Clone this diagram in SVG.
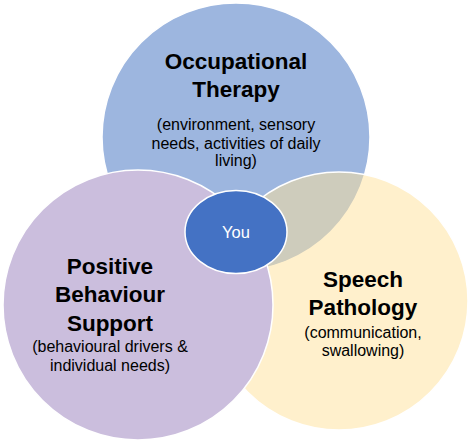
<svg xmlns="http://www.w3.org/2000/svg" width="474" height="445" viewBox="0 0 474 445">
<style>
.c{stroke:#ffffff;stroke-width:1.5}
.t{font-family:"Liberation Sans",Arial,sans-serif;font-weight:bold;font-size:22.5px;fill:#000;text-anchor:middle}
.s{font-family:"Liberation Sans",Arial,sans-serif;font-size:16px;fill:#000;text-anchor:middle}
</style>
<rect width="474" height="445" fill="#ffffff"/>
<g id="ot">
<circle class="c" cx="236" cy="137" r="134" fill="#9DB6DF"/>
</g>
<g id="sp">
<circle class="c" cx="339" cy="301" r="129" fill="#FFE199" fill-opacity="0.5"/>
</g>
<g id="pbs">
<circle class="c" cx="138" cy="305" r="135" fill="#CBBEDD"/>
</g>
<g id="you">
<ellipse class="c" cx="236" cy="232" rx="51" ry="41.5" fill="#4472C4"/>
<text x="236" y="238" font-family="Liberation Sans, Arial, sans-serif" font-size="16.5" fill="#ffffff" text-anchor="middle">You</text>
</g>
<g id="ot-text">
<text class="t" x="236" y="69">Occupational</text>
<text class="t" x="236" y="97">Therapy</text>
<text class="s" x="236" y="130">(environment, sensory</text>
<text class="s" x="236" y="149">needs, activities of daily</text>
<text class="s" x="236" y="166">living)</text>
</g>
<g id="pbs-text">
<text class="t" x="110" y="274">Positive</text>
<text class="t" x="110" y="302">Behaviour</text>
<text class="t" x="110" y="331">Support</text>
<text class="s" x="110" y="352">(behavioural drivers &amp;</text>
<text class="s" x="110" y="371">individual needs)</text>
</g>
<g id="sp-text">
<text class="t" x="363" y="287">Speech</text>
<text class="t" x="363" y="315">Pathology</text>
<text class="s" x="363" y="338">(communication,</text>
<text class="s" x="363" y="356">swallowing)</text>
</g>
<g id="connectors"></g>
</svg>
